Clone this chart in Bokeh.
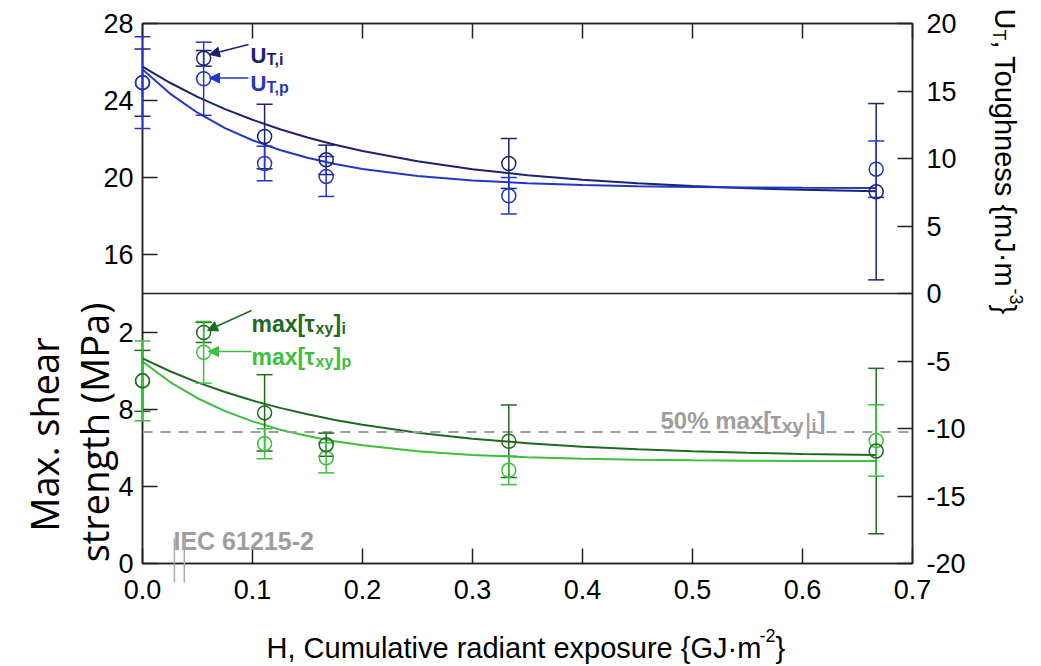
import math
from bokeh.plotting import figure
from bokeh.models import (Range1d, LinearAxis, FixedTicker, ColumnDataSource, Span,
                          Arrow, NormalHead)
from bokeh.core.properties import value
from bokeh.embed import file_html
from bokeh.resources import INLINE

# ---------------- data ----------------
H = [0.0, 0.0556, 0.111, 0.167, 0.333, 0.667]

# toughness U_T (mJ·m^-3), upper panel, right axis
ut_i = [15.62, 17.42, 11.63, 9.90, 9.63, 7.54]
ut_i_err = [2.49, 0.58, 2.39, 1.09, 1.85, 6.53]
ut_p = [15.62, 15.91, 9.63, 8.67, 7.24, 9.21]
ut_p_err = [3.40, 2.71, 1.28, 1.48, 1.35, 2.09]

# max shear strength (MPa), lower panel, left axis
tau_i = [9.47, 11.98, 7.81, 6.16, 6.34, 5.83]
tau_i_err = [1.58, 0.52, 1.98, 0.60, 1.88, 4.29]
tau_p = [9.47, 10.95, 6.21, 5.48, 4.83, 6.38]
tau_p_err = [2.07, 1.60, 0.78, 0.78, 0.74, 1.85]

# fitted curves
H_fit = [0.0, 0.025, 0.05, 0.075, 0.1, 0.125, 0.15, 0.175, 0.2, 0.25,
         0.3, 0.35, 0.4, 0.45, 0.5, 0.55, 0.6, 0.667]
fit_ut_i = [16.8, 15.61, 14.57, 13.66, 12.87, 12.17, 11.56, 11.02, 10.56, 9.80,
            9.21, 8.76, 8.42, 8.16, 7.96, 7.80, 7.68, 7.57]
fit_ut_p = [16.6, 14.81, 13.39, 12.25, 11.35, 10.63, 10.05, 9.59, 9.23, 8.71,
            8.37, 8.17, 8.03, 7.95, 7.89, 7.86, 7.84, 7.82]
fit_tau_i = [10.64, 9.97, 9.39, 8.89, 8.45, 8.07, 7.74, 7.44, 7.19, 6.78,
             6.47, 6.24, 6.06, 5.92, 5.82, 5.74, 5.68, 5.63]
fit_tau_p = [10.47, 9.41, 8.57, 7.90, 7.37, 6.94, 6.61, 6.34, 6.13, 5.82,
             5.63, 5.51, 5.43, 5.38, 5.35, 5.33, 5.32, 5.31]

half_max_tau_i = 6.82
iec_H = [0.029, 0.038]

x_ticks = [0.0, 0.1, 0.2, 0.3, 0.4, 0.5, 0.6, 0.7]
x_tick_labels = ["0.0", "0.1", "0.2", "0.3", "0.4", "0.5", "0.6", "0.7"]
left_ticks = [0, 4, 8, 12, 16, 20, 24, 28]
left_tick_labels = ["0", "4", "8", "2", "16", "20", "24", "28"]
right_ticks = [-20, -15, -10, -5, 0, 5, 10, 15, 20]
right_tick_labels = ["-20", "-15", "-10", "-5", "0", "5", "10", "15", "20"]

# ---------------- style ----------------
NAVY = "#1b2370"
BLUE = "#2436c8"
DGREEN = "#1f6a1f"
LGREEN = "#3cbf3c"
GRAY = "#9e9e9e"
AX = "#222222"
FONT = "Liberation Sans"

W, HGT = 1036, 664
FL, FR, FT, FB = 142, 912, 23, 563   # frame edges in page pixels

p = figure(width=W, height=HGT, x_range=Range1d(0, 0.7), y_range=Range1d(0, 28),
           output_backend="svg", toolbar_location=None,
           x_axis_location=None, y_axis_location=None,
           min_border_left=FL, min_border_right=W - FR,
           min_border_top=FT, min_border_bottom=HGT - FB)
p.extra_y_ranges = {"ut": Range1d(-20, 20)}
p.grid.visible = False
p.outline_line_color = AX
p.outline_line_width = 1.5
p.background_fill_color = "white"
p.border_fill_color = "white"


def style_axis(ax, size="27px", standoff=12):
    ax.major_tick_in = 15
    ax.major_tick_out = 0
    ax.minor_tick_line_color = None
    ax.axis_line_color = AX
    ax.axis_line_width = 1.5
    ax.major_tick_line_color = AX
    ax.major_tick_line_width = 1.5
    ax.major_label_text_font = FONT
    ax.major_label_text_font_size = size
    ax.major_label_text_color = "black"
    ax.major_label_standoff = standoff


left = LinearAxis(ticker=FixedTicker(ticks=left_ticks),
                  major_label_overrides=dict(zip(left_ticks, left_tick_labels)))
style_axis(left, standoff=9)
p.add_layout(left, "left")

right = LinearAxis(y_range_name="ut", ticker=FixedTicker(ticks=right_ticks),
                   major_label_overrides=dict(zip(right_ticks, right_tick_labels)))
style_axis(right, standoff=14)
p.add_layout(right, "right")

below = LinearAxis(ticker=FixedTicker(ticks=x_ticks),
                   major_label_overrides=dict(zip(x_ticks, x_tick_labels)))
style_axis(below, standoff=16)
p.add_layout(below, "below")

above = LinearAxis(ticker=FixedTicker(ticks=x_ticks))
style_axis(above, size="0px", standoff=0)
above.major_label_text_color = None
p.add_layout(above, "above")

# panel separator and 50 % line
p.add_layout(Span(location=14, dimension="width", line_color=AX, line_width=1.5))
p.add_layout(Span(location=half_max_tau_i, dimension="width", line_color=GRAY,
                  line_width=2, line_dash="10 8"))

# fitted curves
p.line(H_fit, fit_ut_i, y_range_name="ut", line_color=NAVY, line_width=2)
p.line(H_fit, fit_ut_p, y_range_name="ut", line_color=BLUE, line_width=2)
p.line(H_fit, fit_tau_i, line_color=DGREEN, line_width=2)
p.line(H_fit, fit_tau_p, line_color=LGREEN, line_width=2)


def make_src(y, err):
    return ColumnDataSource(dict(x=H, y=y,
                                 lo=[a - e for a, e in zip(y, err)],
                                 hi=[a + e for a, e in zip(y, err)]))


def bars(src, color, rng="default"):
    kw = dict(y_range_name=rng, level="overlay")
    p.segment(x0="x", y0="lo", x1="x", y1="hi", source=src, line_color=color,
              line_width=1.5, **kw)
    for end in ("lo", "hi"):
        p.scatter("x", end, source=src, marker="dash", size=16, line_color=color,
                  line_width=1.5, **kw)


def circles(src, color, rng="default"):
    p.scatter("x", "y", source=src, marker="circle", size=14, fill_color=None,
              line_color=color, line_width=1.5, y_range_name=rng, level="overlay")


s_ut_i = make_src(ut_i, ut_i_err)
s_ut_p = make_src(ut_p, ut_p_err)
s_tau_i = make_src(tau_i, tau_i_err)
s_tau_p = make_src(tau_p, tau_p_err)

bars(s_ut_i, NAVY, "ut")
bars(s_ut_p, BLUE, "ut")
circles(s_ut_i, NAVY, "ut")
circles(s_ut_p, BLUE, "ut")
bars(s_tau_i, DGREEN)
bars(s_tau_p, LGREEN)
circles(s_tau_p, LGREEN)
circles(s_tau_i, DGREEN)


# ---------------- annotations (placed in page pixels) ----------------
def hx(px):
    return (px - FL) / (FR - FL) * 0.7


def vy(py):
    return (FB - py) / (FB - FT) * 28.0


def txt(text, px, py, size, color, bold=True, font=FONT, angle=0.0, align="left"):
    p.text(x=[hx(px)], y=[vy(py)], text=[text], text_font=value(font),
           text_font_size=value(f"{size}px"),
           text_font_style=value("bold" if bold else "normal"),
           text_color=color, angle=angle, text_align=value(align),
           text_baseline=value("alphabetic"), level="overlay")


def arrow(x0, y0, x1, y1, color):
    p.add_layout(Arrow(x_start=hx(x0), y_start=vy(y0), x_end=hx(x1), y_end=vy(y1),
                       line_color=color, line_width=1.5,
                       end=NormalHead(size=10, fill_color=color, line_color=color)))


# U_T labels
txt("U", 250, 55, 22, NAVY)
txt("T,i", 266, 59, 16, NAVY)
txt("U", 250, 83, 22, BLUE)
txt("T,p", 266, 87, 16, BLUE)
arrow(248, 44, 209, 54, NAVY)
arrow(248, 77.5, 209, 77.5, BLUE)

# max[tau] labels
for col, base, sub in ((DGREEN, 323, "i"), (LGREEN, 356, "p")):
    txt("max[", 251, base, 23, col)
    txt("τ", 304, base, 23, col)
    txt("xy", 315, base + 5, 16, col)
    txt("]", 333, base, 23, col)
    txt(sub, 341, base + 5, 16, col)
arrow(251, 310, 207, 330, DGREEN)
arrow(251, 351, 208, 351, LGREEN)

# 50 % label
txt("50% max[", 660, 420, 24, GRAY)
txt("τ", 770, 420, 24, GRAY)
txt("xy", 781, 425, 20, GRAY)
txt("|", 804, 423, 28, GRAY, bold=False)
txt("i", 811, 425, 18, GRAY)
txt("]", 817, 420, 24, GRAY)

# IEC marker
txt("IEC 61215-2", 173, 540, 25, GRAY)
p.segment(x0=iec_H, y0=[vy(538)] * 2, x1=iec_H, y1=[vy(582)] * 2,
          line_color="#aaaaaa", line_width=1.5, level="overlay")

# left axis title (two lines, rotated)
txt("Max. shear", 43, 434, 38, "black", bold=False, font="Open Sans",
    angle=math.pi / 2, align="center")
txt("strength (MPa)", 93, 432, 38, "black", bold=False, font="Open Sans",
    angle=math.pi / 2, align="center")

# right axis title (rotated clockwise)
RA = -math.pi / 2
txt("U", 1004, 8, 29, "black", bold=False, angle=RA)
txt("T", 998, 29, 18, "black", bold=False, angle=RA)
txt(", Toughness {mJ·m", 1004, 40, 29, "black", bold=False, angle=RA)
txt("-3", 1016, 288, 18, "black", bold=False, angle=RA)
txt("}", 1004, 304, 29, "black", bold=False, angle=RA)

# x axis title
txt("H, Cumulative radiant exposure {GJ·m", 266, 647, 29, "black", bold=False)
txt("-2", 759, 635, 18, "black", bold=False)
txt("}", 775, 647, 29, "black", bold=False)

open("out.html", "w").write(file_html(p, INLINE))
